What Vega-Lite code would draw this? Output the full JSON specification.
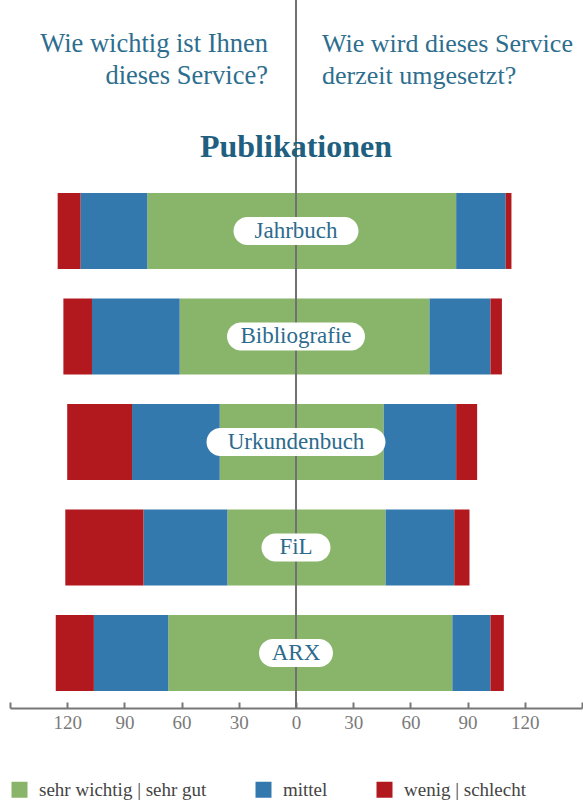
{
  "$schema": "https://vega.github.io/schema/vega-lite/v6.json",
  "autosize": {"type": "none"},
  "padding": {"left": 10, "top": 0, "right": 1, "bottom": 95},
  "width": 572,
  "height": 708,
  "config": {
    "view": {"stroke": null},
    "font": "Liberation Serif",
    "legend": {"labelFont": "Liberation Serif"},
    "axis": {"labelFont": "Liberation Serif"}
  },
  "datasets": {
    "umfrage": [
      {"reihe": "Jahrbuch", "seite": "Wichtigkeit", "kategorie": "sehr wichtig | sehr gut", "anzahl": 78},
      {"reihe": "Jahrbuch", "seite": "Wichtigkeit", "kategorie": "mittel", "anzahl": 35},
      {"reihe": "Jahrbuch", "seite": "Wichtigkeit", "kategorie": "wenig | schlecht", "anzahl": 12},
      {"reihe": "Jahrbuch", "seite": "Umsetzung", "kategorie": "sehr wichtig | sehr gut", "anzahl": 84},
      {"reihe": "Jahrbuch", "seite": "Umsetzung", "kategorie": "mittel", "anzahl": 26},
      {"reihe": "Jahrbuch", "seite": "Umsetzung", "kategorie": "wenig | schlecht", "anzahl": 3},
      {"reihe": "Bibliografie", "seite": "Wichtigkeit", "kategorie": "sehr wichtig | sehr gut", "anzahl": 61},
      {"reihe": "Bibliografie", "seite": "Wichtigkeit", "kategorie": "mittel", "anzahl": 46},
      {"reihe": "Bibliografie", "seite": "Wichtigkeit", "kategorie": "wenig | schlecht", "anzahl": 15},
      {"reihe": "Bibliografie", "seite": "Umsetzung", "kategorie": "sehr wichtig | sehr gut", "anzahl": 70},
      {"reihe": "Bibliografie", "seite": "Umsetzung", "kategorie": "mittel", "anzahl": 32},
      {"reihe": "Bibliografie", "seite": "Umsetzung", "kategorie": "wenig | schlecht", "anzahl": 6},
      {"reihe": "Urkundenbuch", "seite": "Wichtigkeit", "kategorie": "sehr wichtig | sehr gut", "anzahl": 40},
      {"reihe": "Urkundenbuch", "seite": "Wichtigkeit", "kategorie": "mittel", "anzahl": 46},
      {"reihe": "Urkundenbuch", "seite": "Wichtigkeit", "kategorie": "wenig | schlecht", "anzahl": 34},
      {"reihe": "Urkundenbuch", "seite": "Umsetzung", "kategorie": "sehr wichtig | sehr gut", "anzahl": 46},
      {"reihe": "Urkundenbuch", "seite": "Umsetzung", "kategorie": "mittel", "anzahl": 38},
      {"reihe": "Urkundenbuch", "seite": "Umsetzung", "kategorie": "wenig | schlecht", "anzahl": 11},
      {"reihe": "FiL", "seite": "Wichtigkeit", "kategorie": "sehr wichtig | sehr gut", "anzahl": 36},
      {"reihe": "FiL", "seite": "Wichtigkeit", "kategorie": "mittel", "anzahl": 44},
      {"reihe": "FiL", "seite": "Wichtigkeit", "kategorie": "wenig | schlecht", "anzahl": 41},
      {"reihe": "FiL", "seite": "Umsetzung", "kategorie": "sehr wichtig | sehr gut", "anzahl": 47},
      {"reihe": "FiL", "seite": "Umsetzung", "kategorie": "mittel", "anzahl": 36},
      {"reihe": "FiL", "seite": "Umsetzung", "kategorie": "wenig | schlecht", "anzahl": 8},
      {"reihe": "ARX", "seite": "Wichtigkeit", "kategorie": "sehr wichtig | sehr gut", "anzahl": 67},
      {"reihe": "ARX", "seite": "Wichtigkeit", "kategorie": "mittel", "anzahl": 39},
      {"reihe": "ARX", "seite": "Wichtigkeit", "kategorie": "wenig | schlecht", "anzahl": 20},
      {"reihe": "ARX", "seite": "Umsetzung", "kategorie": "sehr wichtig | sehr gut", "anzahl": 82},
      {"reihe": "ARX", "seite": "Umsetzung", "kategorie": "mittel", "anzahl": 20},
      {"reihe": "ARX", "seite": "Umsetzung", "kategorie": "wenig | schlecht", "anzahl": 7}
    ],
    "reihen": [
      {"reihe": "Jahrbuch"},
      {"reihe": "Bibliografie"},
      {"reihe": "Urkundenbuch"},
      {"reihe": "FiL"},
      {"reihe": "ARX"}
    ]
  },
  "layer": [
    {
      "encoding": {
        "y": {
          "field": "reihe",
          "type": "nominal",
          "sort": ["Jahrbuch", "Bibliografie", "Urkundenbuch", "FiL", "ARX"],
          "scale": {"paddingInner": 0.28, "paddingOuter": 0.995, "align": 0.919},
          "axis": null
        }
      },
      "layer": [
        {
          "data": {"name": "umfrage"},
          "transform": [
            {"calculate": "datum.seite == 'Wichtigkeit' ? -datum.anzahl : datum.anzahl", "as": "wert"},
            {"calculate": "indexof(['sehr wichtig | sehr gut', 'mittel', 'wenig | schlecht'], datum.kategorie)", "as": "rang"}
          ],
          "mark": {"type": "bar", "strokeWidth": 0},
          "encoding": {
            "x": {
              "field": "wert",
              "type": "quantitative",
              "stack": "zero",
              "scale": {"domain": [-150, 150], "nice": false},
              "axis": {
                "title": null,
                "grid": false,
                "values": [-150, -120, -90, -60, -30, 0, 30, 60, 90, 120, 150],
                "labelExpr": "abs(datum.value) == 150 ? '' : format(abs(datum.value), 'd')",
                "domainColor": "#777777",
                "domainWidth": 2,
                "tickColor": "#777777",
                "tickWidth": 2,
                "tickSize": -6,
                "labelPadding": 11,
                "labelFontSize": 19,
                "labelColor": "#7a7a7a",
                "labelFont": "Liberation Serif"
              }
            },
            "color": {
              "field": "kategorie",
              "type": "nominal",
              "scale": {
                "domain": ["sehr wichtig | sehr gut", "mittel", "wenig | schlecht"],
                "range": ["#89b56b", "#3479ae", "#b2191f"]
              },
              "legend": {
                "title": null,
                "orient": "bottom",
                "direction": "horizontal",
                "symbolType": "square",
                "symbolSize": 256,
                "symbolStrokeWidth": 0,
                "symbolOpacity": 1,
                "labelFontSize": 19,
                "labelColor": "#444444",
                "labelOffset": 10,
                "columnPadding": 47,
                "offset": 48,
                "labelLimit": 300
              }
            },
            "order": {"field": "rang", "type": "quantitative"}
          }
        },
        {
          "data": {"name": "reihen"},
          "mark": {"type": "rule", "color": "#717171", "strokeWidth": 2},
          "encoding": {"x": {"datum": 0, "type": "quantitative"}, "y": null}
        },
        {
          "data": {"name": "reihen"},
          "mark": {"type": "point", "filled": true, "fill": "#ffffff", "opacity": 1, "strokeWidth": 0, "size": 40000},
          "encoding": {
            "x": {"datum": 0, "type": "quantitative"},
            "shape": {
              "field": "reihe",
              "type": "nominal",
              "legend": null,
              "scale": {
                "domain": ["Jahrbuch", "Bibliografie", "Urkundenbuch", "FiL", "ARX"],
                "range": [
                  "M-0.485,-0.14L0.485,-0.14C0.5623,-0.14,0.625,-0.0773,0.625,0C0.625,0.0773,0.5623,0.14,0.485,0.14L-0.485,0.14C-0.5623,0.14,-0.625,0.0773,-0.625,0C-0.625,-0.0773,-0.5623,-0.14,-0.485,-0.14Z",
                  "M-0.55,-0.14L0.55,-0.14C0.6273,-0.14,0.69,-0.0773,0.69,0C0.69,0.0773,0.6273,0.14,0.55,0.14L-0.55,0.14C-0.6273,0.14,-0.69,0.0773,-0.69,0C-0.69,-0.0773,-0.6273,-0.14,-0.55,-0.14Z",
                  "M-0.755,-0.14L0.755,-0.14C0.8323,-0.14,0.895,-0.0773,0.895,0C0.895,0.0773,0.8323,0.14,0.755,0.14L-0.755,0.14C-0.8323,0.14,-0.895,0.0773,-0.895,0C-0.895,-0.0773,-0.8323,-0.14,-0.755,-0.14Z",
                  "M-0.205,-0.14L0.205,-0.14C0.2823,-0.14,0.345,-0.0773,0.345,0C0.345,0.0773,0.2823,0.14,0.205,0.14L-0.205,0.14C-0.2823,0.14,-0.345,0.0773,-0.345,0C-0.345,-0.0773,-0.2823,-0.14,-0.205,-0.14Z",
                  "M-0.23,-0.14L0.23,-0.14C0.3073,-0.14,0.37,-0.0773,0.37,0C0.37,0.0773,0.3073,0.14,0.23,0.14L-0.23,0.14C-0.3073,0.14,-0.37,0.0773,-0.37,0C-0.37,-0.0773,-0.3073,-0.14,-0.23,-0.14Z"
                ]
              }
            }
          }
        },
        {
          "data": {"name": "reihen"},
          "mark": {"type": "text", "font": "Liberation Serif", "fontSize": 23, "color": "#2c6b8d", "baseline": "middle", "align": "center"},
          "encoding": {
            "x": {"datum": 0, "type": "quantitative"},
            "text": {"field": "reihe", "type": "nominal"}
          }
        }
      ]
    },
    {
      "data": {"values": [{}]},
      "encoding": {
        "x": {"datum": 0, "type": "quantitative"}
      },
      "layer": [
        {
          "mark": {"type": "text", "text": ["Wie wichtig ist Ihnen", "dieses Service?"], "font": "Liberation Serif", "fontSize": 26.5, "lineHeight": 32, "color": "#2d6e8e", "align": "right", "baseline": "alphabetic", "dx": -28},
          "encoding": {
            "y": {"datum": "kopf", "type": "ordinal", "scale": {"type": "point", "domain": ["kopf", "titel"], "padding": 0, "range": [52, 157]}, "axis": null}
          }
        },
        {
          "mark": {"type": "text", "text": ["Wie wird dieses Service", "derzeit umgesetzt?"], "font": "Liberation Serif", "fontSize": 26, "lineHeight": 32, "color": "#2d6e8e", "align": "left", "baseline": "alphabetic", "dx": 26},
          "encoding": {
            "y": {"datum": "kopf", "type": "ordinal"}
          }
        },
        {
          "mark": {"type": "text", "text": "Publikationen", "font": "Liberation Serif", "fontSize": 32, "fontWeight": "bold", "color": "#215f80", "align": "center", "baseline": "alphabetic"},
          "encoding": {
            "y": {"datum": "titel", "type": "ordinal"}
          }
        }
      ]
    }
  ],
  "resolve": {"scale": {"y": "independent", "shape": "independent"}}
}
